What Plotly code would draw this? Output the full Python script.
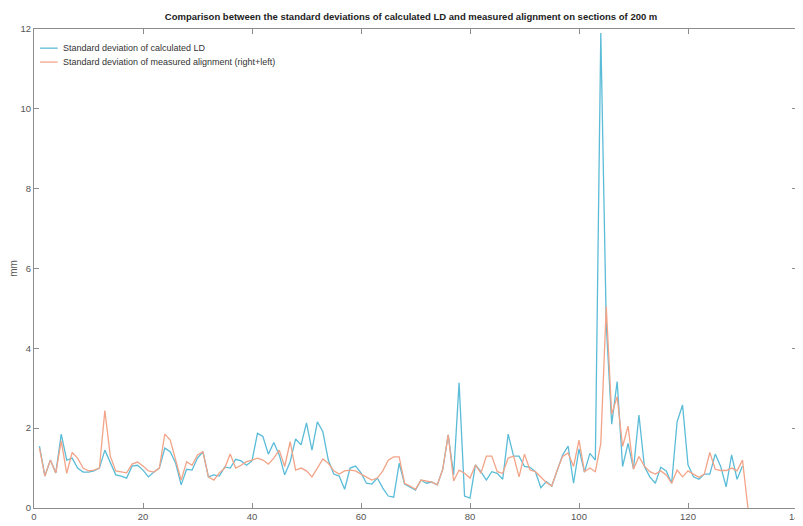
import plotly.graph_objects as go

# Section index (200 m sections)
sections_ld = list(range(1, 131))
sections_align = list(range(1, 132))

# Standard deviation of calculated LD (mm)
std_ld = [
    1.55, 0.80, 1.20, 0.88, 1.85, 1.20, 1.25, 1.00, 0.90, 0.90,
    0.93, 1.00, 1.45, 1.16, 0.83, 0.80, 0.75, 1.05, 1.07, 0.95,
    0.78, 0.90, 1.00, 1.50, 1.41, 1.12, 0.58, 0.97, 0.95, 1.25,
    1.41, 0.78, 0.83, 0.80, 1.03, 1.00, 1.22, 1.18, 1.07, 1.18,
    1.87, 1.79, 1.35, 1.64, 1.33, 0.83, 1.16, 1.73, 1.58, 2.13,
    1.45, 2.16, 1.91, 1.20, 0.85, 0.80, 0.47, 1.00, 1.05, 0.88,
    0.62, 0.60, 0.75, 0.50, 0.30, 0.27, 1.12, 0.60, 0.53, 0.45,
    0.70, 0.62, 0.65, 0.58, 0.97, 1.83, 0.83, 3.14, 0.30, 0.25,
    1.08, 0.91, 0.70, 0.91, 0.87, 0.72, 1.85, 1.30, 1.30, 1.04,
    1.02, 0.91, 0.51, 0.66, 0.55, 0.95, 1.33, 1.55, 0.62, 1.48,
    0.90, 1.37, 1.20, 11.90, 4.60, 2.10, 3.17, 1.04, 1.62, 0.98,
    2.33, 1.04, 0.78, 0.62, 1.02, 0.93, 0.62, 2.16, 2.58, 1.08,
    0.78, 0.72, 0.85, 0.85, 1.35, 1.04, 0.53, 1.33, 0.72, 1.05,
]

# Standard deviation of measured alignment, right+left (mm)
std_align = [
    1.50, 0.80, 1.20, 0.88, 1.68, 0.87, 1.39, 1.25, 1.00, 0.93,
    0.95, 1.00, 2.44, 1.30, 0.93, 0.90, 0.88, 1.10, 1.15, 1.05,
    0.93, 0.90, 1.00, 1.85, 1.70, 1.20, 0.70, 1.16, 1.07, 1.33,
    1.41, 0.78, 0.70, 0.88, 1.00, 1.35, 1.00, 1.07, 1.16, 1.20,
    1.25, 1.20, 1.10, 1.25, 1.45, 1.04, 1.66, 0.95, 1.00, 0.93,
    0.78, 1.00, 1.23, 1.12, 0.93, 0.85, 0.93, 0.95, 0.93, 0.85,
    0.77, 0.70, 0.75, 0.93, 1.20, 1.28, 1.28, 0.62, 0.55, 0.47,
    0.70, 0.68, 0.65, 0.58, 0.97, 1.83, 0.68, 0.95, 0.87, 0.75,
    1.08, 0.87, 1.30, 1.30, 0.91, 0.87, 1.25, 1.30, 0.78, 1.35,
    0.95, 0.91, 0.78, 0.64, 0.55, 0.95, 1.29, 1.38, 1.04, 1.70,
    0.91, 1.00, 0.91, 1.62, 5.05, 2.35, 2.79, 1.54, 2.05, 0.97,
    1.29, 1.05, 0.91, 0.85, 0.93, 0.83, 0.62, 0.95, 0.78, 0.93,
    0.85, 0.77, 0.85, 1.39, 0.97, 0.94, 0.94, 1.00, 0.93, 1.20,
    0.00,
]

series_names = [
    "Standard deviation of calculated LD",
    "Standard deviation of measured alignment (right+left)",
]

x_ticks = [0, 20, 40, 60, 80, 100, 120, 140]
y_ticks = [0, 2, 4, 6, 8, 10, 12]

BLUE = "#5bbcd8"
ORANGE = "#f2a488"
COLORS = [BLUE, ORANGE]
FONT = "Liberation Sans, Arial, sans-serif"

fig = go.Figure()
fig.add_trace(go.Scatter(
    x=sections_ld, y=std_ld, mode="lines", name=series_names[0],
    line=dict(color=BLUE, width=1.3), showlegend=False,
))
fig.add_trace(go.Scatter(
    x=sections_align, y=std_align, mode="lines", name=series_names[1],
    line=dict(color=ORANGE, width=1.3), showlegend=False,
))

# Compact legend (MATLAB-like) drawn in paper coordinates
legend_y = [0.960, 0.931]
for name, col, ly in zip(series_names, COLORS, legend_y):
    fig.add_shape(type="line", xref="paper", yref="paper",
                  x0=0.008, x1=0.031, y0=ly, y1=ly,
                  line=dict(color=col, width=1.3))
    fig.add_annotation(xref="paper", yref="paper", x=0.036, y=ly,
                       xanchor="left", yanchor="middle", showarrow=False,
                       text=name, font=dict(family=FONT, size=9, color="#333333"))

axis_common = dict(
    showline=True, mirror="ticks", linecolor="#8c8c8c", linewidth=1,
    ticks="inside", ticklen=5, tickcolor="#8c8c8c",
    showgrid=False, zeroline=False, automargin=False,
    tickfont=dict(family=FONT, size=9.5, color="#555555"),
)

# The page body adds an 8px offset, so the figure is sized to fit the window.
fig.update_layout(
    width=795, height=518,
    paper_bgcolor="white", plot_bgcolor="white",
    margin=dict(l=26, r=6, t=21, b=18),
    title=dict(
        text="<b>Comparison between the standard deviations of calculated LD and measured alignment on sections of 200 m</b>",
        x=0.507, xanchor="center", y=0.983, yanchor="middle",
        font=dict(family=FONT, size=9.5, color="#222222"),
    ),
    xaxis=dict(range=[0, 140], tickvals=x_ticks, ticklabeloverflow="allow", **axis_common),
    yaxis=dict(range=[0, 12], tickvals=y_ticks,
               title=dict(text="mm", font=dict(family=FONT, size=10, color="#555555"), standoff=3),
               **axis_common),
    showlegend=False,
)

fig.write_html("out.html")
